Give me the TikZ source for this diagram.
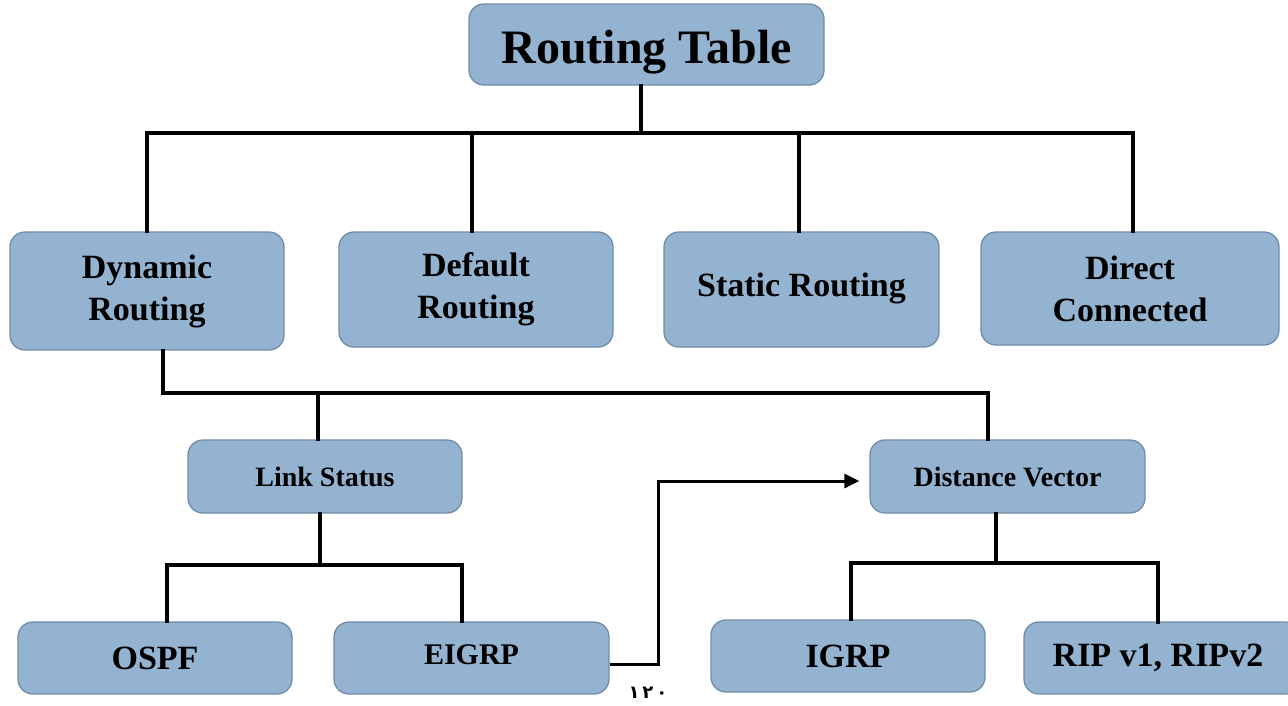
\documentclass[tikz,border=0pt]{standalone}
\usepackage{fontspec}
\setmainfont{Liberation Serif}
\newfontfamily\arabicdigits[Script=Arabic]{DejaVu Sans}
\usetikzlibrary{arrows.meta}
\definecolor{boxfill}{RGB}{148,179,209}
\definecolor{boxline}{RGB}{112,140,168}
\tikzset{
  box/.style={draw=boxline, line width=1.3pt, fill=boxfill, rounded corners=15pt,
    inner sep=0pt, align=center, font=\bfseries\fontsize{34}{42}\selectfont},
  smalltxt/.style={font=\bfseries\fontsize{28}{32}\selectfont},
  conn/.style={line width=4pt, line cap=rect, line join=miter},
  arr/.style={line width=3pt, line join=miter, -{Triangle[length=15pt,width=14pt]}}
}
\begin{document}
\begin{tikzpicture}[x=1pt,y=-1pt]
\useasboundingbox (0,0) rectangle (1288,705);
% level 0
\node[box, minimum width=355pt, minimum height=81pt, text height=44pt, text depth=7pt,
  font=\bfseries\fontsize{48}{54}\selectfont] (rt) at (646.5,44.5) {Routing Table};
% level 1
\node[box, minimum width=274pt, minimum height=118pt] (dyn) at (147,291) {Dynamic\\Routing};
\node[box, minimum width=274pt, minimum height=115pt] (def) at (476,289.5) {Default\\Routing};
\node[box, minimum width=275pt, minimum height=115pt] (stat) at (801.5,289.5) {\raisebox{10pt}{Static Routing}};
\node[box, minimum width=298pt, minimum height=113pt] (dir) at (1130,288.5) {Direct\\Connected};
% level 2
\node[box, smalltxt, minimum width=274pt, minimum height=73pt] (ls) at (325,476.5) {Link Status};
\node[box, smalltxt, minimum width=275pt, minimum height=73pt] (dv) at (1007.5,476.5) {Distance Vector};
% level 3
\node[box, minimum width=274pt, minimum height=72pt] (ospf) at (155,658) {OSPF};
\node[box, minimum width=275pt, minimum height=72pt, font=\bfseries\fontsize{30}{34}\selectfont] (eigrp) at (471.5,658) {\raisebox{6pt}{EIGRP}};
\node[box, minimum width=274pt, minimum height=72pt] (igrp) at (848,656) {IGRP};
\node[box, minimum width=276pt, minimum height=72pt] (rip) at (1162,658) {\hspace*{-8pt}RIP v1, RIPv2};
% page number
\node[inner sep=0pt, anchor=base, font=\arabicdigits\bfseries\fontsize{18}{22}\selectfont] (pg) at (648,698) {١\,٢\,٠};
% top bus
\coordinate (bus) at (0,133);
\coordinate (rtout) at ([xshift=-5.5pt]rt.south);
\draw[conn] (rtout) -- (rtout |- bus);
\draw[conn] (dyn.north |- bus) -- (dir.north |- bus);
\draw[conn] (dyn.north) -- (dyn.north |- bus);
\draw[conn] ([xshift=-4pt]def.north) -- ([xshift=-4pt]def.north |- bus);
\draw[conn] ([xshift=-2.5pt]stat.north) -- ([xshift=-2.5pt]stat.north |- bus);
\draw[conn] ([xshift=3pt]dir.north) -- ([xshift=3pt]dir.north |- bus);
% dynamic routing branches
\coordinate (bus2) at (0,393);
\coordinate (dynout) at ([xshift=16pt]dyn.south);
\coordinate (dvin) at ([xshift=-19.5pt]dv.north);
\coordinate (lsin) at ([xshift=-7pt]ls.north);
\draw[conn] (dynout) -- (dynout |- bus2) -- (dvin |- bus2) -- (dvin);
\draw[conn] (lsin |- bus2) -- (lsin);
% link status branches
\coordinate (bus3) at (0,565);
\coordinate (lsout) at ([xshift=-5pt]ls.south);
\coordinate (ospfin) at ([xshift=12pt]ospf.north);
\coordinate (eigrpin) at ([xshift=-9.5pt]eigrp.north);
\draw[conn] (lsout) -- (lsout |- bus3);
\draw[conn] (ospfin) -- (ospfin |- bus3) -- (eigrpin |- bus3) -- (eigrpin);
% distance vector branches
\coordinate (bus4) at (0,563);
\coordinate (dvout) at ([xshift=-11.5pt]dv.south);
\coordinate (igrpin) at ([xshift=3pt]igrp.north);
\coordinate (ripin) at (1158,622);
\draw[conn] (dvout) -- (dvout |- bus4);
\draw[conn] (igrpin) -- (igrpin |- bus4) -- (ripin |- bus4) -- (ripin);
% arrow EIGRP -> Distance Vector
\coordinate (elbow) at (658,481);
\draw[arr] ([yshift=-6pt]eigrp.east) -| (elbow) -- ([xshift=-10pt,yshift=-4.5pt]dv.west);
\end{tikzpicture}
\end{document}
